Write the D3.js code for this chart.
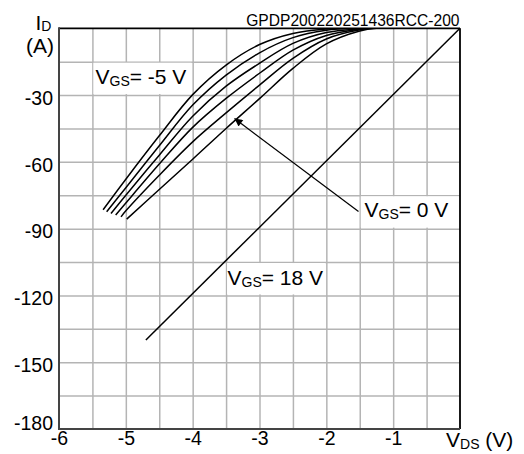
<!DOCTYPE html>
<html>
<head>
<meta charset="utf-8">
<script src="https://cdn.jsdelivr.net/npm/d3@7"></script>
<style>
  body { margin: 0; background: #fff; }
  svg { display: block; font-family: "Liberation Sans", Arial, sans-serif; }
</style>
</head>
<body>
<div id="chart"></div>
<script>
// axis ticks
const xTicks = [-6, -5, -4, -3, -2, -1];
const yTicks = [-180, -150, -120, -90, -60, -30];

// V_GS = -5 .. 0 V curves, [V_DS, I_D]
const vgsM5 = [[-5.34, -81.5], [-5, -67.8], [-4.5, -48.3], [-4, -29.8], [-3.5, -16.5], [-3, -7.3], [-2.5, -2.3], [-2, -0.3], [-1.7, 0], [0, 0]];
const vgsM4 = [[-5.287, -82.4], [-5, -71.6], [-4.5, -52.8], [-4, -34.5], [-3.5, -21], [-3, -11], [-2.5, -4.2], [-2, -0.9], [-1.6, 0], [0, 0]];
const vgsM3 = [[-5.222, -83.2], [-5, -75], [-4.5, -57], [-4, -39.5], [-3.5, -26], [-3, -15.7], [-2.5, -6.8], [-2, -1.9], [-1.5, -0.2], [-1.4, 0], [0, 0]];
const vgsM2 = [[-5.152, -83.9], [-5, -78.5], [-4.5, -61], [-4, -44.5], [-3.5, -31.5], [-3, -20.2], [-2.5, -9.8], [-2, -3.2], [-1.5, -0.4], [-1.35, 0], [0, 0]];
const vgsM1 = [[-5.072, -84.7], [-5, -82], [-4.5, -66], [-4, -51], [-3.5, -38], [-3, -25.5], [-2.5, -13.5], [-2, -4.8], [-1.5, -0.7], [-1.3, 0], [0, 0]];
const vgs0 = [[-4.987, -85.7], [-4.5, -72.4], [-4, -58.8], [-3.5, -45], [-3, -31.6], [-2.5, -18], [-2, -7], [-1.5, -1.2], [-1.25, 0], [0, 0]];
// V_GS = 18 V
const vgs18 = [[-4.7, -140], [0, 0]];

const curves = [vgsM5, vgsM4, vgsM3, vgsM2, vgsM1, vgs0];

const W = 524, H = 454;
const margin = { left: 59, right: 460, top: 28.3, bottom: 429 };
const font = '"Liberation Sans", Arial, sans-serif';

const svg = d3.select('#chart').append('svg')
  .attr('width', W).attr('height', H);

const x = d3.scaleLinear().domain([-6, 0]).range([margin.left, margin.right]);
const y = d3.scaleLinear().domain([-180, 0]).range([margin.bottom, margin.top]);

svg.append('defs').append('clipPath')
  .attr('id', 'plot')
  .append('rect')
  .attr('x', margin.left).attr('y', margin.top)
  .attr('width', margin.right - margin.left)
  .attr('height', margin.bottom - margin.top);

// grid
const xGrid = d3.range(-5.5, 0, 0.5);
const yGrid = d3.range(-165, 0, 15);

svg.append('g')
  .attr('transform', `translate(0,${margin.bottom})`)
  .call(d3.axisBottom(x).tickValues(xGrid).tickSize(-(margin.bottom - margin.top)).tickFormat(''))
  .call((g) => g.select('.domain').remove())
  .selectAll('line')
  .attr('stroke', '#b4b4b4')
  .attr('stroke-width', 1.5);

svg.append('g')
  .attr('transform', `translate(${margin.left},0)`)
  .call(d3.axisLeft(y).tickValues(yGrid).tickSize(-(margin.right - margin.left)).tickFormat(''))
  .call((g) => g.select('.domain').remove())
  .selectAll('line')
  .attr('stroke', '#b4b4b4')
  .attr('stroke-width', 1.5);

// white label boxes
const boxes = [
  [-5.5, -4, -15, -30],
  [-1.5, 0, -75, -90],
  [-3.5, -2, -105, -120],
];
svg.selectAll('.box')
  .data(boxes)
  .enter()
  .append('rect')
  .attr('class', 'box')
  .attr('x', (d) => x(d[0]) + 1)
  .attr('y', (d) => y(d[2]) + 1)
  .attr('width', (d) => x(d[1]) - x(d[0]) - 2)
  .attr('height', (d) => y(d[3]) - y(d[2]) - 2)
  .attr('fill', '#fff');

// curves
const line = d3.line()
  .x((d) => x(d[0]))
  .y((d) => y(d[1]))
  .curve(d3.curveCatmullRom.alpha(0.5));

svg.append('g')
  .attr('clip-path', 'url(#plot)')
  .selectAll('.curve')
  .data(curves)
  .enter()
  .append('path')
  .attr('class', 'curve')
  .attr('d', line)
  .attr('fill', 'none')
  .attr('stroke', '#000')
  .attr('stroke-width', 1.5);

svg.append('path')
  .attr('d', d3.line().x((d) => x(d[0])).y((d) => y(d[1]))(vgs18))
  .attr('fill', 'none')
  .attr('stroke', '#000')
  .attr('stroke-width', 1.5);

// frame
const frame = svg.append('g');
frame.append('line').attr('x1', margin.left).attr('x2', margin.right)
  .attr('y1', margin.top).attr('y2', margin.top)
  .attr('stroke', '#000').attr('stroke-width', 1.8);
frame.append('line').attr('x1', margin.right).attr('x2', margin.right)
  .attr('y1', margin.top).attr('y2', margin.bottom)
  .attr('stroke', '#000').attr('stroke-width', 1.8);
frame.append('line').attr('x1', margin.left).attr('x2', margin.left)
  .attr('y1', margin.top - 1).attr('y2', margin.bottom + 1)
  .attr('stroke', '#444').attr('stroke-width', 2);
frame.append('line').attr('x1', margin.left - 1).attr('x2', margin.right)
  .attr('y1', margin.bottom).attr('y2', margin.bottom)
  .attr('stroke', '#444').attr('stroke-width', 2);

// tick labels
svg.append('g')
  .attr('transform', `translate(${margin.left},0)`)
  .call(d3.axisLeft(y).tickValues(yTicks).tickSize(0).tickPadding(6).tickFormat((d) => String(d)))
  .call((g) => g.select('.domain').remove())
  .selectAll('text')
  .attr('fill', '#000')
  .style('font-size', '19.5px')
  .style('font-family', font)
  .attr('dy', (d) => (d === -180 ? '0em' : '0.47em'));

svg.append('g')
  .attr('transform', `translate(0,${margin.bottom})`)
  .call(d3.axisBottom(x).tickValues(xTicks).tickSize(0).tickPadding(2.5).tickFormat((d) => String(d)))
  .call((g) => g.select('.domain').remove())
  .selectAll('text')
  .attr('fill', '#000')
  .style('font-size', '19.5px')
  .style('font-family', font);

// arrow
svg.select('defs').append('marker')
  .attr('id', 'arr')
  .attr('viewBox', '0 0 10 10')
  .attr('refX', 10).attr('refY', 5)
  .attr('markerWidth', 12).attr('markerHeight', 8)
  .attr('markerUnits', 'userSpaceOnUse')
  .attr('orient', 'auto')
  .append('path')
  .attr('d', 'M0,0 L10,5 L0,10 Z')
  .attr('fill', '#000');

svg.append('line')
  .attr('x1', 358.5).attr('y1', 211.5)
  .attr('x2', 234.5).attr('y2', 118.5)
  .attr('stroke', '#000')
  .attr('stroke-width', 1.2)
  .attr('marker-end', 'url(#arr)');

// labels with subscripts
function sublabel(px, py, main, sub, rest, size, subSize, drop) {
  const t = svg.append('text')
    .attr('x', px).attr('y', py)
    .style('font-size', `${size}px`)
    .attr('fill', '#000');
  t.append('tspan').text(main);
  t.append('tspan').text(sub).style('font-size', `${subSize}px`).attr('dy', drop);
  if (rest) t.append('tspan').text(rest).attr('dy', -drop);
  return t;
}

sublabel(95.5, 84, 'V', 'GS', '= -5 V', 21, 14, 2);
sublabel(364.5, 216.7, 'V', 'GS', '= 0 V', 21, 14, 2);
sublabel(227.5, 284.5, 'V', 'GS', '= 18 V', 21, 14, 2);
sublabel(35.5, 30, 'I', 'D', null, 21, 14, 0.5);
sublabel(446, 447, 'V', 'DS', ' (V)', 21, 14, 2);

svg.append('text')
  .attr('x', 26).attr('y', 52.5)
  .style('font-size', '21px')
  .attr('fill', '#000')
  .text('(A)');

svg.append('text')
  .attr('x', margin.right - 0.5).attr('y', 26)
  .attr('text-anchor', 'end')
  .style('font-size', '15.6px')
  .attr('fill', '#000')
  .text('GPDP200220251436RCC-200');
</script>
</body>
</html>
